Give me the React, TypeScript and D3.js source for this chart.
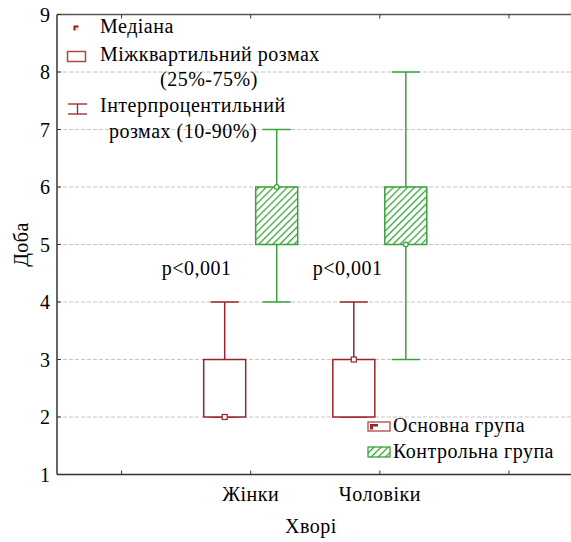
import React from "react";
import * as d3 from "d3";

const categories = ["Жінки", "Чоловіки"];
const groups = ["Основна група", "Контрольна група"];
// [category][group] -> stats
const q1 = [[2, 5], [2, 5]];
const q3 = [[3, 6], [3, 6]];
const medians = [[2, 6], [3, 5]];
const whiskLow = [[2, 4], [2, 3]];
const whiskHigh = [[4, 7], [4, 8]];
const yTicks = [1, 2, 3, 4, 5, 6, 7, 8, 9];
const xTickPos = [0.5, 1.5, 2.5, 3.5];
const catPos = [1.5, 2.5];
const pLabels = ["p<0,001", "p<0,001"];

const W = 571, H = 542;
const RED = "#9a2326";
const GREEN = "#3aa23a";
const FONT = "Liberation Serif, Tinos, DejaVu Serif, serif";

export default function App() {
  const x = d3.scaleLinear().domain([0, 4]).range([57, 573.5]);
  const y = d3.scaleLinear().domain([1, 9]).range([474.5, 14.5]);
  const off = 26;
  const bw = 42;
  const cap = 28;
  const fs = 20;
  const ls = 0.5;
  const pShift = [-89, -67];
  const T = { fontFamily: FONT, letterSpacing: ls };

  return (
    <svg width={W} height={H} style={{ position: "absolute", left: 0, top: 0, background: "#fff", fontFamily: FONT }}>
      <defs>
        <pattern id="hatch" patternUnits="userSpaceOnUse" width="5" height="5" patternTransform="rotate(45)">
          <rect width="5" height="5" fill="#fff" />
          <line x1="0" y1="0" x2="0" y2="5" stroke={GREEN} strokeWidth="2.6" />
        </pattern>
      </defs>
      <rect x={0} y={0} width={W} height={H} fill="#fff" />
      {/* grid */}
      {yTicks.filter(t => t > 1 && t < 9).map(t => (
        <line key={t} x1={x(0)} x2={W} y1={y(t)} y2={y(t)} stroke="#c4c4c4" strokeDasharray="4 2" strokeWidth={1} />
      ))}
      {/* frame */}
      <line x1={x(0)} x2={x(0)} y1={y(9)} y2={y(1)} stroke="#333" strokeWidth={1.5} />
      <line x1={x(0)} x2={W} y1={y(9)} y2={y(9)} stroke="#555" strokeWidth={1.5} />
      <line x1={x(0)} x2={W} y1={y(1)} y2={y(1)} stroke="#333" strokeWidth={1.5} />
      {yTicks.map(t => (
        <g key={t}>
          <line x1={x(0)} x2={x(0) + 4} y1={y(t)} y2={y(t)} stroke="#333" strokeWidth={1} />
          <text x={50} y={y(t) + 7} textAnchor="end" style={{ fontFamily: FONT }} fontSize={20}>{t}</text>
        </g>
      ))}
      {xTickPos.map(t => (
        <g key={t}>
          <line x1={x(t)} x2={x(t)} y1={y(1)} y2={y(1) - 4} stroke="#333" strokeWidth={1} />
          <line x1={x(t)} x2={x(t)} y1={y(9)} y2={y(9) + 4} stroke="#333" strokeWidth={1} />
        </g>
      ))}
      {categories.map((c, i) => (
        <text key={c} x={x(catPos[i])} y={501} textAnchor="middle" style={T} fontSize={fs}>{c}</text>
      ))}
      <text x={311} y={533} textAnchor="middle" style={T} fontSize={fs}>Хворі</text>
      <text transform={`translate(28,${y(5)}) rotate(-90)`} textAnchor="middle" style={T} fontSize={fs}>Доба</text>
      {/* boxes */}
      {categories.map((c, i) => groups.map((g, j) => {
        const cx = x(catPos[i]) + (j === 0 ? -off : off);
        const col = j === 0 ? RED : GREEN;
        return (
          <g key={c + g}>
            <line x1={cx} x2={cx} y1={y(whiskHigh[i][j])} y2={y(q3[i][j])} stroke={col} strokeWidth={1.5} />
            <line x1={cx} x2={cx} y1={y(q1[i][j])} y2={y(whiskLow[i][j])} stroke={col} strokeWidth={1.5} />
            <line x1={cx - cap / 2} x2={cx + cap / 2} y1={y(whiskHigh[i][j])} y2={y(whiskHigh[i][j])} stroke={col} strokeWidth={1.5} />
            <line x1={cx - cap / 2} x2={cx + cap / 2} y1={y(whiskLow[i][j])} y2={y(whiskLow[i][j])} stroke={col} strokeWidth={1.5} />
            <rect x={cx - bw / 2} y={y(q3[i][j])} width={bw} height={y(q1[i][j]) - y(q3[i][j])}
              fill={j === 0 ? "#fff" : "url(#hatch)"} stroke={col} strokeWidth={1.5} />
            {j === 0 ? (
              <rect x={cx - 2.5} y={y(medians[i][j]) - 2.5} width={5} height={5} fill="#fff" stroke={RED} strokeWidth={1.2} />
            ) : (
              <circle cx={cx} cy={y(medians[i][j])} r={2.3} fill="#fff" stroke={GREEN} strokeWidth={1.2} />
            )}
          </g>
        );
      }))}
      {pLabels.map((p, i) => (
        <text key={i} x={x(catPos[i]) + pShift[i]} y={275} style={T} fontSize={fs}>{p}</text>
      ))}
      {/* top-left legend */}
      <g style={T} fontSize={fs}>
        <rect x={73.5} y={25.5} width={5} height={5} fill="#f3dada" />
        <path d="M73.5,25.5 h5 v2 h-3 v3 h-2 z" fill={RED} />
        <text x={100} y={33}>Медіана</text>
        <rect x={67.5} y={51.5} width={18} height={10} fill="#fff" stroke="#b04446" strokeWidth={1.5} />
        <text x={100} y={61}>Міжквартильний розмах</text>
        <text x={160} y={86}>(25%-75%)</text>
        <line x1={68} x2={87} y1={104} y2={104} stroke={RED} strokeWidth={1.3} />
        <line x1={68} x2={87} y1={114} y2={114} stroke={RED} strokeWidth={1.3} />
        <line x1={77.5} x2={77.5} y1={104} y2={114} stroke={RED} strokeWidth={1.3} />
        <text x={100} y={112}>Інтерпроцентильний</text>
        <text x={109} y={138}>розмах (10-90%)</text>
      </g>
      {/* bottom-right legend */}
      <g style={T} fontSize={fs}>
        <rect x={368} y={422} width={22} height={9} fill="#fff" stroke="#b04446" strokeWidth={1.3} />
        <path d="M370,424 h8 v2.5 h-5 v3 h-3 z" fill={RED} />
        <text x={393} y={432}>{groups[0]}</text>
        <rect x={368} y={447} width={22} height={10} fill="url(#hatch)" stroke={GREEN} strokeWidth={1.3} />
        <text x={393} y={458}>{groups[1]}</text>
      </g>
    </svg>
  );
}
